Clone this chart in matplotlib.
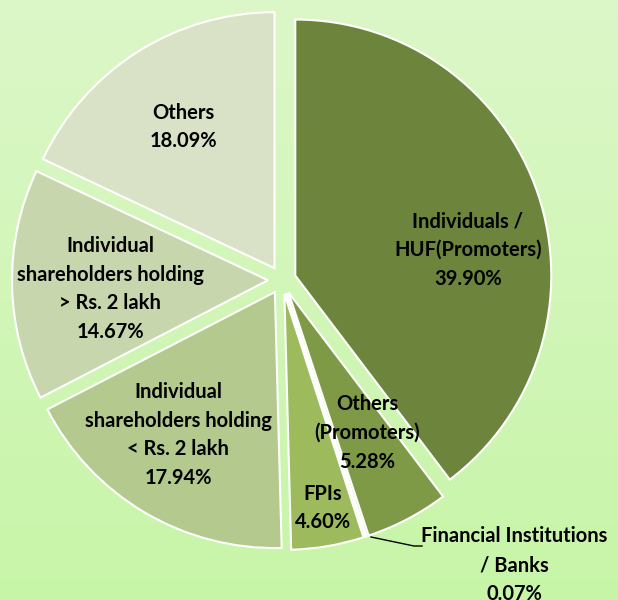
import numpy as np
import matplotlib.pyplot as plt
from matplotlib.colors import LinearSegmentedColormap

labels = [
    "Individuals /\nHUF(Promoters)\n39.90%",
    "Others\n(Promoters)\n5.28%",
    "",
    "FPIs\n4.60%",
    "Individual\nshareholders holding\n< Rs. 2 lakh\n17.94%",
    "Individual\nshareholders holding\n> Rs. 2 lakh\n14.67%",
    "Others\n18.09%",
]
values = [39.90, 5.28, 0.07, 4.60, 17.94, 14.67, 18.09]
colors = ["#6d843c", "#7f9a47", "#8aa650", "#9dbb5c", "#b3c98e", "#c8d6ae", "#d9e2c6"]
fi_label = "Financial Institutions\n/ Banks\n0.07%"

plt.rcParams["font.family"] = ["Lato", "DejaVu Sans"]

fig = plt.figure(figsize=(6.18, 6.0), dpi=100)
ax = fig.add_axes([0, 0, 1, 1])

# background gradient
bg = LinearSegmentedColormap.from_list("bg", ["#c7f5a8", "#dcf7c8"])
grad = np.linspace(0, 1, 256).reshape(-1, 1)
ax.imshow(grad, cmap=bg, extent=[0, 618, 0, 600], origin="lower", aspect="auto", zorder=0)

center = (282, 320)
radius = 256
wedges, _ = ax.pie(
    values,
    colors=colors,
    startangle=90,
    counterclock=False,
    center=center,
    radius=radius,
    explode=[14] * len(values),
    wedgeprops=dict(edgecolor="white", linewidth=1.5),
    frame=True,
)
ax.set_xlim(0, 618)
ax.set_ylim(0, 600)
ax.set_aspect("equal")
ax.axis("off")

label_pos = [(468, 350), (367, 167), None, (323, 92), (178, 165), (110, 311), (183, 473)]
for lab, pos in zip(labels, label_pos):
    if pos is None:
        continue
    ax.text(pos[0], pos[1], lab, ha="center", va="center", fontsize=14.5,
            fontweight="bold", linespacing=1.55, color="black", zorder=5)

# leader line for the tiny slice
ax.plot([371, 414, 422], [63, 54, 54], color="black", lw=1.0, zorder=5)
ax.text(514, 35, fi_label, ha="center", va="center", fontsize=14.5,
        fontweight="bold", linespacing=1.55, color="black", zorder=5)

fig.savefig("out.png", dpi=100)
